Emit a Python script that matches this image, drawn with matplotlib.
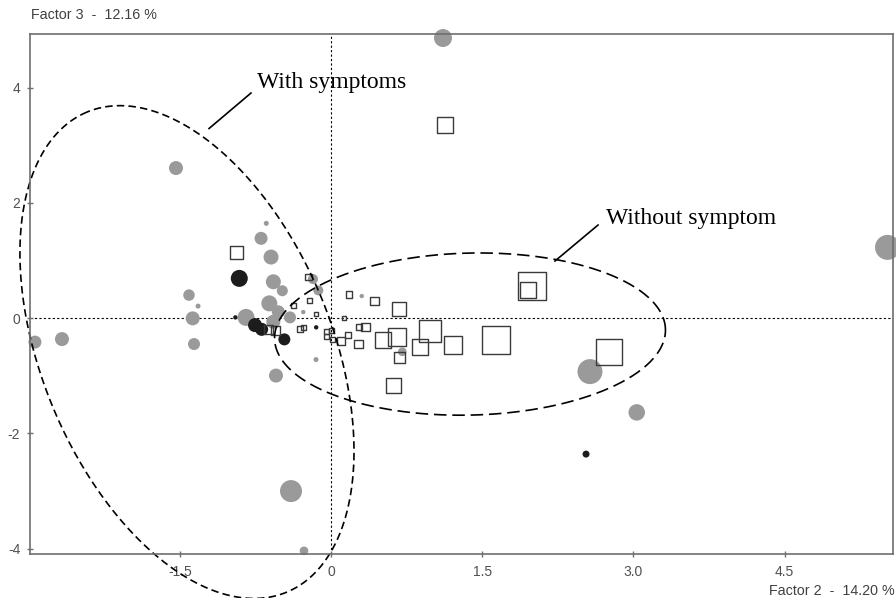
import numpy as np
import matplotlib
matplotlib.use("Agg")
import matplotlib.pyplot as plt

# grey circles: factor 2, factor 3, marker size (px)
grey_x = [1.111, -1.538, 5.521, -2.937, -2.669, 2.569, 3.033, -0.397, -0.268, -0.546,
          -1.409, -1.372, -1.359, -1.319, -0.642, -0.694, -0.595, -0.572, -0.483, -0.612,
          -0.523, -0.407, -0.843, -0.572, -0.275, -0.179, -0.126, 0.305, -0.149, 0.707]
grey_y = [4.861, 2.604, 1.227, -0.417, -0.365, -0.929, -1.637, -3.003, -4.040, -0.998,
          0.399, -0.005, -0.451, 0.208, 1.644, 1.384, 1.059, 0.630, 0.474, 0.255,
          0.109, 0.012, 0.012, -0.064, 0.104, 0.677, 0.481, 0.382, -0.720, -0.585]
grey_w = [18, 14, 25, 13, 14, 25, 16.5, 22, 8.6, 14,
          11.5, 14, 12, 5, 5, 13, 15, 15, 11, 16,
          13, 12, 17, 14, 4.4, 10, 10, 4.4, 5, 8.6]

# black circles
black_x = [-0.910, -0.754, -0.688, -0.463, -0.949, -0.147, 2.530]
black_y = [0.689, -0.122, -0.196, -0.370, 0.012, -0.161, -2.361]
black_w = [17, 14, 13, 12, 4.4, 4.4, 7]

# open squares
sq_x = [1.131, -0.936, 1.997, 1.957, 0.678, 0.432, 0.176, -0.225, -0.218, -0.375,
        -0.149, 0.129, -0.308, -0.268, -0.622, -0.551, -0.045, 0.000, -0.045, 0.010,
        0.099, 0.169, 0.275, 0.344, 0.275, 0.513, 0.652, 0.982, 0.883, 1.210,
        1.637, 2.755, 0.678, 0.618]
sq_y = [3.346, 1.134, 0.556, 0.486, 0.156, 0.300, 0.405, 0.712, 0.313, 0.226,
        0.069, 0.000, -0.186, -0.156, -0.196, -0.220, -0.226, -0.208, -0.313, -0.365,
        -0.394, -0.295, -0.161, -0.151, -0.451, -0.382, -0.325, -0.220, -0.498, -0.469,
        -0.382, -0.585, -0.689, -1.168]
sq_w = [16, 13, 28, 16, 14, 8.5, 6.5, 6.5, 5, 5,
        3.5, 3.5, 6, 5, 8.5, 8.5, 5, 5, 5, 5,
        7.5, 6, 6, 8.5, 8.5, 16, 18, 22, 16, 18,
        28, 26, 11, 15]

xlim = (-2.986, 5.572)
ylim = (-4.10, 4.925)

W, H = 896, 598
fig = plt.figure(figsize=(W / 100, H / 100), dpi=100)
pos = [0.0335, 0.0731, 0.9628, 0.8695]
ax = fig.add_axes(pos)
ax.set_xlim(*xlim)
ax.set_ylim(*ylim)

px_x = W * pos[2] / (xlim[1] - xlim[0])   # pixels per unit
px_y = H * pos[3] / (ylim[1] - ylim[0])
pt = 0.72  # px -> pt

ax.axhline(0, color='black', lw=0.8, dashes=(2, 2), zorder=1)
ax.axvline(0, color='black', lw=0.8, dashes=(2, 2), zorder=1)

ax.scatter(grey_x, grey_y, s=(np.array(grey_w) * pt) ** 2, c='#9a9a9a',
           edgecolors='none', zorder=2, clip_on=False)
ax.scatter(black_x, black_y, s=(np.array(black_w) * pt) ** 2, c='#1c1c1c',
           edgecolors='none', zorder=3, clip_on=False)
ax.scatter(sq_x, sq_y, s=(np.array(sq_w) * pt) ** 2, marker='s', facecolors='none',
           edgecolors='#3a3a3a', linewidths=1.0, zorder=4)


def ellipse(cx, cy, a, b, ang, dashes):
    # a, b in pixels, angle in screen degrees -> data curve
    t = np.linspace(0, 2 * np.pi, 400)
    th = np.deg2rad(ang)
    dx = a * np.cos(t) * np.cos(th) - b * np.sin(t) * np.sin(th)
    dy = a * np.cos(t) * np.sin(th) + b * np.sin(t) * np.cos(th)
    ax.plot(cx + dx / px_x, cy + dy / px_y, color='black', lw=1.2,
            dashes=dashes, zorder=5, clip_on=False)


ellipse(-1.429, -0.59, 260, 145, 112.6, (4.5, 2.5))
ellipse(1.379, -0.278, 195.5, 81, 1.4, (7.5, 3.5))

ax.plot([-1.210, -0.794], [3.290, 3.906], color='black', lw=1.2, zorder=5)
ax.plot([2.222, 2.649], [0.990, 1.615], color='black', lw=1.2, zorder=5)
ax.text(-0.734, 3.993, 'With symptoms', family='Liberation Serif', fontsize=17,
        va='baseline', ha='left', zorder=6)
ax.text(2.728, 1.632, 'Without symptom', family='Liberation Serif', fontsize=17,
        va='baseline', ha='left', zorder=6)

ax.set_xticks([-1.5, 0, 1.5, 3.0, 4.5])
ax.set_xticklabels(['-1.5', '0', '1.5', '3.0', '4.5'])
ax.set_yticks([-4, -2, 0, 2, 4])
ax.set_yticklabels(['-4', '-2', '0', '2', '4'])
ax.tick_params(direction='inout', length=5, width=1, color='#707070',
               labelcolor='#505050', labelsize=10)
ax.tick_params(axis='x', pad=5.5)
ax.tick_params(axis='y', pad=4.5)
for lab in ax.get_xticklabels() + ax.get_yticklabels():
    lab.set_family('Liberation Sans')
for sp in ax.spines.values():
    sp.set_color('#6e6e6e')
    sp.set_linewidth(1.2)
    sp.set_zorder(7)

fig.text(31 / W, 1 - 15 / H, 'Factor 3  -  12.16 %', family='Liberation Sans',
         fontsize=10.3, color='#404040', ha='left', va='center')
fig.text(895 / W, 1 - 591 / H, 'Factor 2  -  14.20 %', family='Liberation Sans',
         fontsize=10.3, color='#404040', ha='right', va='center')

fig.savefig('out.png', dpi=100)
